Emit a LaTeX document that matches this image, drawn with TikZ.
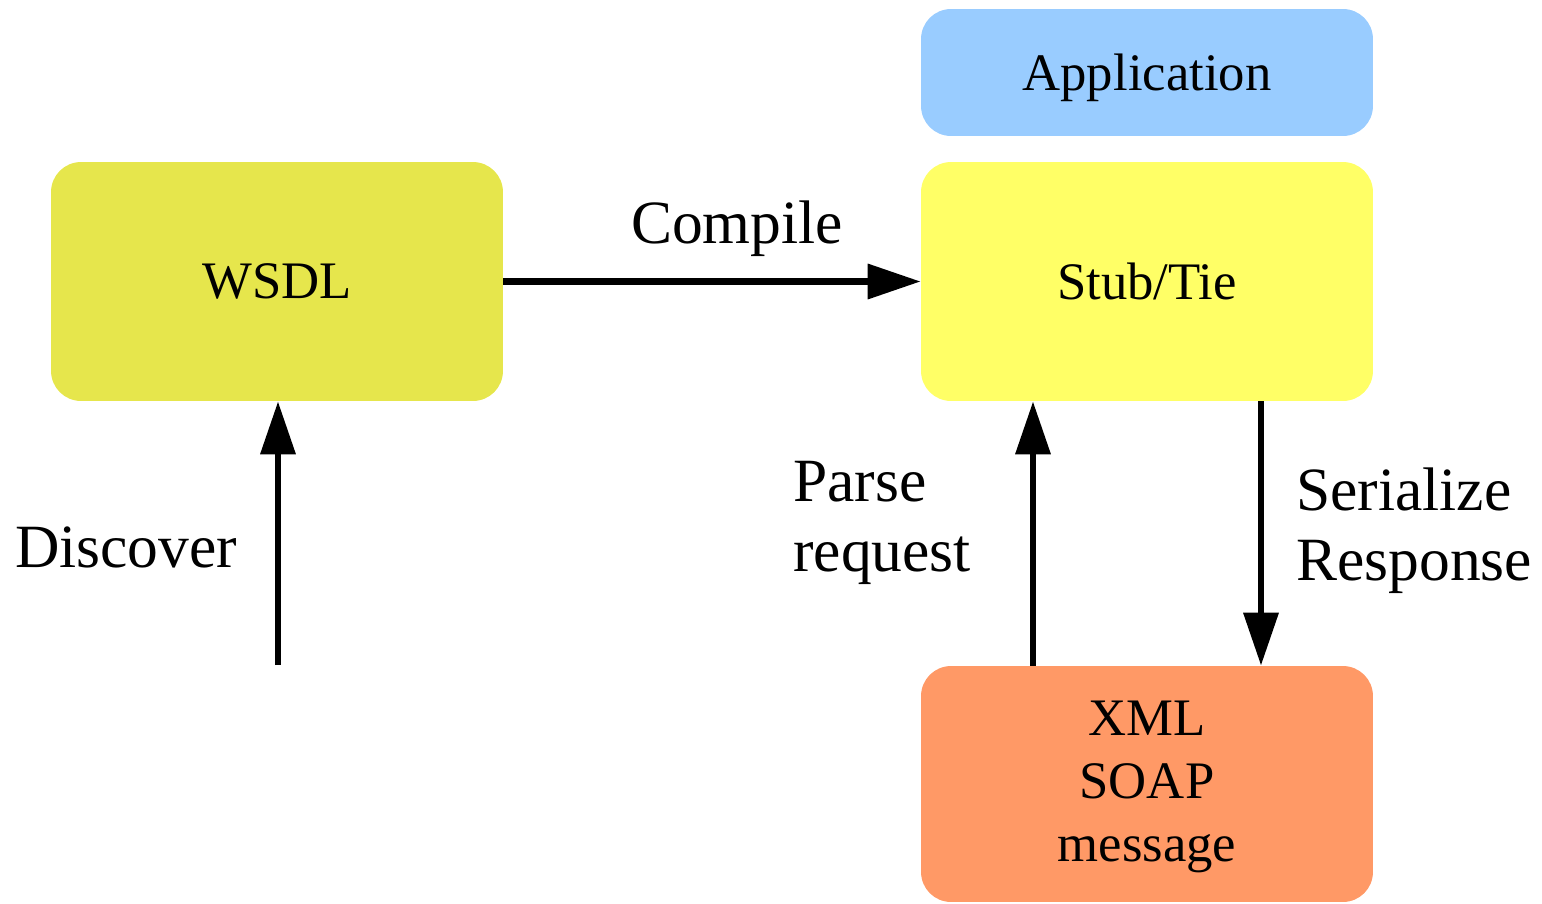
\documentclass[tikz,border=0pt]{standalone}
\usepackage{fontspec}
\setmainfont{Liberation Serif}
\usetikzlibrary{arrows.meta}
\definecolor{appblue}{HTML}{99CCFF}
\definecolor{wsdlcol}{HTML}{E6E64C}
\definecolor{stubcol}{HTML}{FFFF66}
\definecolor{xmlcol}{HTML}{FF9966}
\tikzset{
  box/.style={rectangle, rounded corners=0.6cm, draw=none, minimum width=9.04cm,
    align=center, font=\fontsize{30}{35.7}\selectfont, inner sep=0pt},
  flow/.style={line width=3.8pt, -{Triangle[length=1.06cm,width=0.68cm]}},
  lbl/.style={font=\fontsize{35}{40}\selectfont, align=left, inner sep=0pt}
}
\begin{document}
\begin{tikzpicture}[x=0.02cm,y=-0.02cm]
\useasboundingbox (0,0) rectangle (1542,903);
% boxes
\node[box, fill=appblue, minimum height=2.54cm] (app) at (1147,72.5) {};
\node[font=\fontsize{30}{35.7}\selectfont, anchor=base] (apptext) at (1147,90) {Application};
\node[box, fill=wsdlcol, minimum height=4.78cm] (wsdl) at (277,281.5) {WSDL};
\node[box, fill=stubcol, minimum height=4.78cm] (stub) at (1147,281.5) {Stub/Tie};
\node[box, fill=xmlcol, minimum height=4.72cm] (xml) at (1147,784) {};
\node[font=\fontsize{30}{35.7}\selectfont, align=center, inner sep=0pt] (xmltext) at (1147,787) {XML\\SOAP\\message};
% columns for vertical connectors
\coordinate (dstart) at (278,665);
\coordinate (pcol) at (1033,0);
\coordinate (scol) at (1261,0);
% connectors
\draw[flow] (wsdl.east) -- (stub.west);
\draw[flow] (dstart) -- (wsdl.south -| dstart);
\draw[flow] (xml.north -| pcol) -- (stub.south -| pcol);
\draw[flow] (stub.south -| scol) -- (xml.north -| scol);
% labels
\node[lbl, anchor=base] (lcompile) at (737,243) {Compile};
\node[lbl, anchor=base] (ldiscover) at (126,567) {Discover};
\node[lbl, anchor=west] (lparse) at (793,523) {Parse\\request};
\node[lbl, anchor=west] (lserial) at (1296,531) {Serialize\\Response};
\end{tikzpicture}
\end{document}
